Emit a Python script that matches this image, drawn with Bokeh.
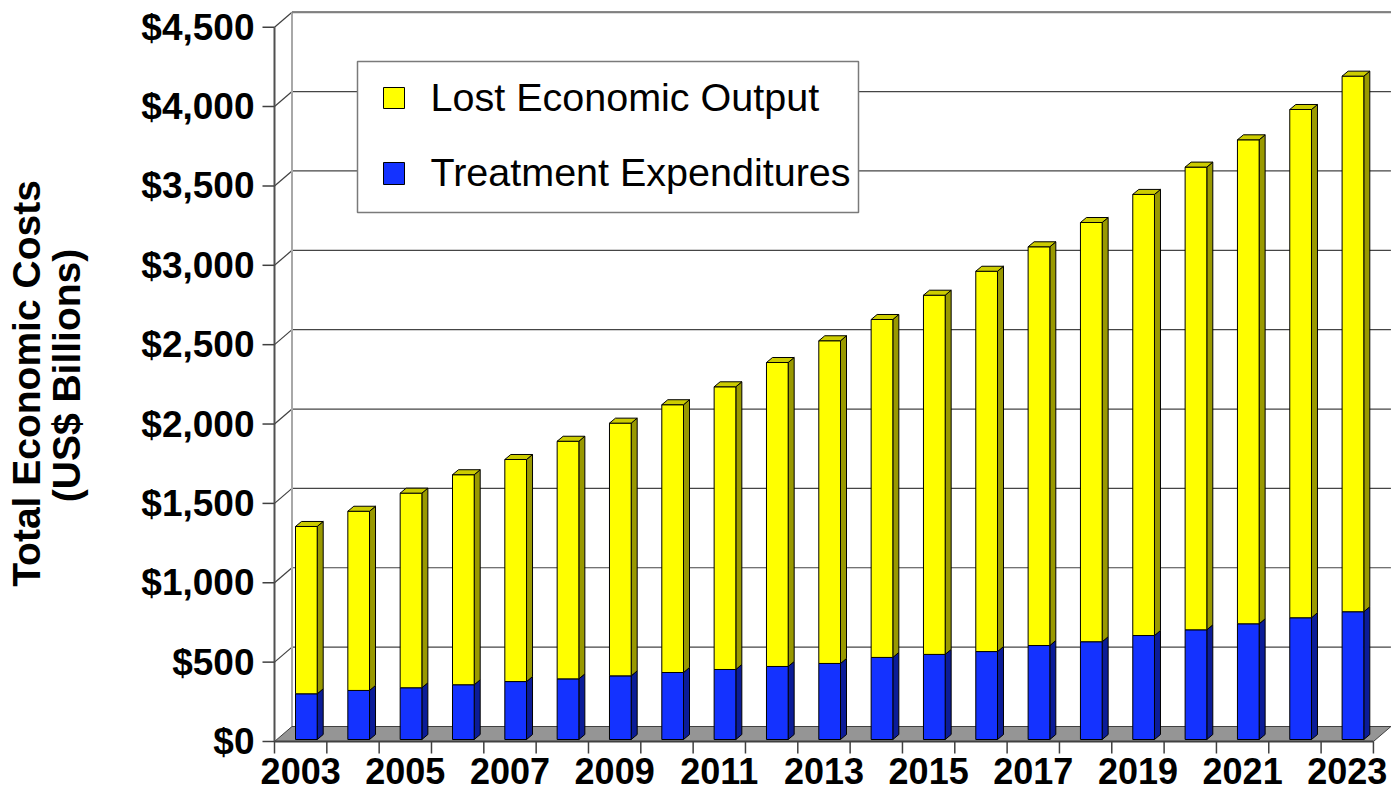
import math
from bokeh.plotting import figure
from bokeh.models import Range1d
from bokeh.core.properties import value
from bokeh.embed import file_html
from bokeh.resources import INLINE

# ---------------- data ----------------
years = [2003, 2004, 2005, 2006, 2007, 2008, 2009, 2010, 2011, 2012, 2013,
         2014, 2015, 2016, 2017, 2018, 2019, 2020, 2021, 2022, 2023]
treatment = [288, 309, 326, 345, 365, 382, 401, 422, 441, 460, 479,
             517, 536, 554, 592, 616, 655, 691, 729, 767, 805]
lost_output = [1054, 1129, 1226, 1323, 1399, 1497, 1592, 1687, 1781, 1915, 2033,
               2129, 2263, 2396, 2512, 2641, 2779, 2915, 3049, 3202, 3374]
y_ticks = [0, 500, 1000, 1500, 2000, 2500, 3000, 3500, 4000, 4500]
y_tick_labels = ["$0", "$500", "$1,000", "$1,500", "$2,000", "$2,500",
                 "$3,000", "$3,500", "$4,000", "$4,500"]
series_names = ["Lost Economic Output", "Treatment Expenditures"]
y_title = ["Total Economic Costs", "(US$ Billions)"]

# ---------------- layout (pixels of the picture) ----------------
W, H = 1391, 791
AXIS_X = 274          # front y axis position
FLOOR_Y = 741         # front floor edge (value 0)
CAT_PX = 52.33
VAL_PX = 714.3 / 4500.0
FONT = "Liberation Sans"


def pX(px):
    return (px - AXIS_X) / CAT_PX


def pV(py):
    return (FLOOR_Y - py) / VAL_PX


DX = 17.5 / CAT_PX          # depth offset (floor / walls)
DV = 15.0 / VAL_PX
BAR_L = 21.0 / CAT_PX       # bar front face offset inside category
BAR_W = 21.7 / CAT_PX
BAR_V0 = 2.0 / VAL_PX
BDX = 6.0 / CAT_PX          # bar depth
BDV = 5.0 / VAL_PX

n = len(years)
YMAX = y_ticks[-1]

p = figure(width=W, height=H, output_backend="svg", toolbar_location=None,
           x_axis_location=None, y_axis_location=None,
           x_range=Range1d(pX(0), pX(W)), y_range=Range1d(pV(H), pV(0)),
           min_border=0, min_border_left=0, min_border_right=0,
           min_border_top=0, min_border_bottom=0)
p.outline_line_color = None
p.xgrid.visible = False
p.ygrid.visible = False
p.background_fill_color = "white"
p.border_fill_color = "white"

# ---------------- walls & gridlines ----------------
grid_vals = y_ticks[1:]
p.segment(x0=[DX] * len(grid_vals), y0=[v + DV for v in grid_vals],
          x1=[n + DX] * len(grid_vals), y1=[v + DV for v in grid_vals],
          line_color="#454545", line_width=1.2)
p.segment(x0=[0] * len(grid_vals), y0=grid_vals,
          x1=[DX] * len(grid_vals), y1=[v + DV for v in grid_vals],
          line_color="#404040", line_width=1.2)
p.segment(x0=[DX], y0=[DV], x1=[DX], y1=[YMAX + DV], line_color="#a8a8a8", line_width=2)
p.segment(x0=[DX], y0=[YMAX + DV], x1=[n + DX], y1=[YMAX + DV], line_color="#808080", line_width=2)

# floor
p.patch(x=[0, n, n + DX, DX], y=[0, 0, DV, DV], fill_color="#959595",
        line_color="#404040", line_width=1)
p.segment(x0=[0], y0=[0], x1=[n], y1=[0], line_color="#404040", line_width=2)
# front y axis line and ticks
p.segment(x0=[0], y0=[0], x1=[0], y1=[YMAX], line_color="#505050", line_width=2)
p.segment(x0=[pX(262)] * len(y_ticks), y0=y_ticks, x1=[0] * len(y_ticks), y1=y_ticks,
          line_color="#404040", line_width=1.5)
# x category ticks
p.segment(x0=list(range(n + 1)), y0=[0] * (n + 1), x1=list(range(n + 1)),
          y1=[pV(753)] * (n + 1), line_color="#404040", line_width=1.5)

# ---------------- bars ----------------
colors = {
    "blue": ("#1432FF", "#0B1C98", "#1028CC"),
    "yellow": ("#FFFF00", "#999900", "#CCCC00"),
}
totals = [t + l for t, l in zip(treatment, lost_output)]
for key, lows, highs in [("blue", [0] * n, treatment), ("yellow", treatment, totals)]:
    front, side, top = colors[key]
    lefts = [i + BAR_L for i in range(n)]
    rights = [x + BAR_W for x in lefts]
    bots = [b + BAR_V0 for b in lows]
    tops = [t + BAR_V0 for t in highs]
    side_xs = [[r, r + BDX, r + BDX, r] for r in rights]
    side_ys = [[b, b + BDV, t + BDV, t] for b, t in zip(bots, tops)]
    p.patches(xs=side_xs, ys=side_ys, fill_color=side, line_color="black", line_width=1)
    p.quad(left=lefts, right=rights, bottom=bots, top=tops, fill_color=front,
           line_color="black", line_width=1)
    if key == "yellow":
        top_xs = [[l, r, r + BDX, l + BDX] for l, r in zip(lefts, rights)]
        top_ys = [[t, t, t + BDV, t + BDV] for t in tops]
        p.patches(xs=top_xs, ys=top_ys, fill_color=top, line_color="black", line_width=1)

# ---------------- tick labels ----------------
p.text(x=[pX(254)] * len(y_ticks), y=y_ticks, text=y_tick_labels,
       text_align="right", text_baseline="middle", text_font=value(FONT),
       text_font_size="37px", text_font_style="bold", text_color="black")

lab_years = years[::2]
p.text(x=[i + 0.5 for i in range(0, n, 2)], y=[pV(770.5)] * len(lab_years),
       text=[str(y) for y in lab_years], text_align="center", text_baseline="middle",
       text_font=value(FONT), text_font_size="36px", text_font_style="bold",
       text_color="black")

# ---------------- legend (drawn) ----------------
p.quad(left=[pX(357)], right=[pX(858)], bottom=[pV(212)], top=[pV(61)],
       fill_color="white", line_color="#7a7a7a", line_width=1.5)
p.quad(left=[pX(383), pX(383)], right=[pX(404), pX(404)],
       bottom=[pV(108), pV(184)], top=[pV(87), pV(162)],
       fill_color=["#FFFF00", "#1432FF"], line_color="black", line_width=1)
p.text(x=[pX(430), pX(430)], y=[pV(96), pV(171)], text=series_names,
       text_align="left", text_baseline="middle", text_font=value(FONT),
       text_font_size="39.5px", text_color="black")

# ---------------- axis title ----------------
p.text(x=[pX(26), pX(66)], y=[pV(383), pV(375)], text=y_title, angle=math.pi / 2,
       text_align="center", text_baseline="middle", text_font=value(FONT),
       text_font_size="39px", text_font_style="bold", text_color="black")

open("out.html", "w").write(file_html(p, INLINE))
